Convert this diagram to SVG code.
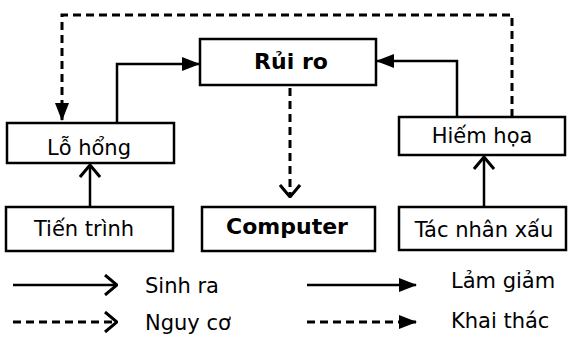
<svg xmlns="http://www.w3.org/2000/svg" width="568" height="340" viewBox="0 0 568 340">
<style>
.box{fill:#fff;stroke:#000;stroke-width:2.5}
.t{font-family:"DejaVu Sans",Verdana,sans-serif;font-size:21px;fill:#000;text-anchor:middle}
.b{font-weight:bold;font-size:22px}
.lg{font-family:"DejaVu Sans",Verdana,sans-serif;font-size:21px;fill:#000}
.s{fill:none;stroke:#000;stroke-width:2.5}
.d{fill:none;stroke:#000;stroke-width:3;stroke-dasharray:8 5}
</style>
<defs>
<marker id="open" viewBox="0 0 14 22" refX="13" refY="11" markerWidth="14" markerHeight="22" markerUnits="userSpaceOnUse" orient="auto">
<path d="M1,1 L13,11 L1,21" fill="none" stroke="#000" stroke-width="3"/>
</marker>
<marker id="fill" viewBox="0 0 18 14" refX="17" refY="7" markerWidth="18" markerHeight="14" markerUnits="userSpaceOnUse" orient="auto">
<path d="M0,0 L18,7 L0,14 z" fill="#000"/>
</marker>
</defs>
<rect width="568" height="340" fill="#fff"/>
<g id="connectors">
<path class="d" d="M512,117 V15 H62 V120" marker-end="url(#fill)"/>
<path class="s" d="M117,123 V64 H199" marker-end="url(#fill)"/>
<path class="s" d="M457,117 V61 H377" marker-end="url(#fill)"/>
<path class="d" d="M290,88 V197" marker-end="url(#open)"/>
<path class="s" d="M90,207 V165" marker-end="url(#open)"/>
<path class="s" d="M484,207 V157" marker-end="url(#open)"/>
</g>
<g id="n-ruiro"><rect class="box" x="200" y="39" width="176" height="46"/><text class="t b" x="291" y="69" font-size="23">Rủi ro</text></g>
<g id="n-lohong"><rect class="box" x="7" y="123" width="167" height="40"/><text class="t" x="89" y="155">Lỗ hổng</text></g>
<g id="n-hiemhoa"><rect class="box" x="399" y="117" width="166" height="38"/><text class="t" x="482" y="143">Hiếm họa</text></g>
<g id="n-tientrinh"><rect class="box" x="6" y="207" width="167" height="44"/><text class="t" x="84" y="236">Tiến trình</text></g>
<g id="n-computer"><rect class="box" x="202" y="207" width="173" height="44"/><text class="t b" x="287" y="234">Computer</text></g>
<g id="n-tacnhan"><rect class="box" x="399" y="207" width="167" height="43"/><text class="t" x="484" y="237">Tác nhân xấu</text></g>
<g id="legend">
<path class="s" d="M13,285 H117" marker-end="url(#open)"/>
<path class="d" d="M13,322 H117" marker-end="url(#open)"/>
<path class="s" d="M307,285 H416" marker-end="url(#fill)"/>
<path class="d" d="M307,322 H416" marker-end="url(#fill)"/>
<text class="lg" x="145" y="293">Sinh ra</text>
<text class="lg" x="145" y="330">Nguy cơ</text>
<text class="lg" x="451" y="288">Lảm giảm</text>
<text class="lg" x="451" y="328">Khai thác</text>
</g>
</svg>
